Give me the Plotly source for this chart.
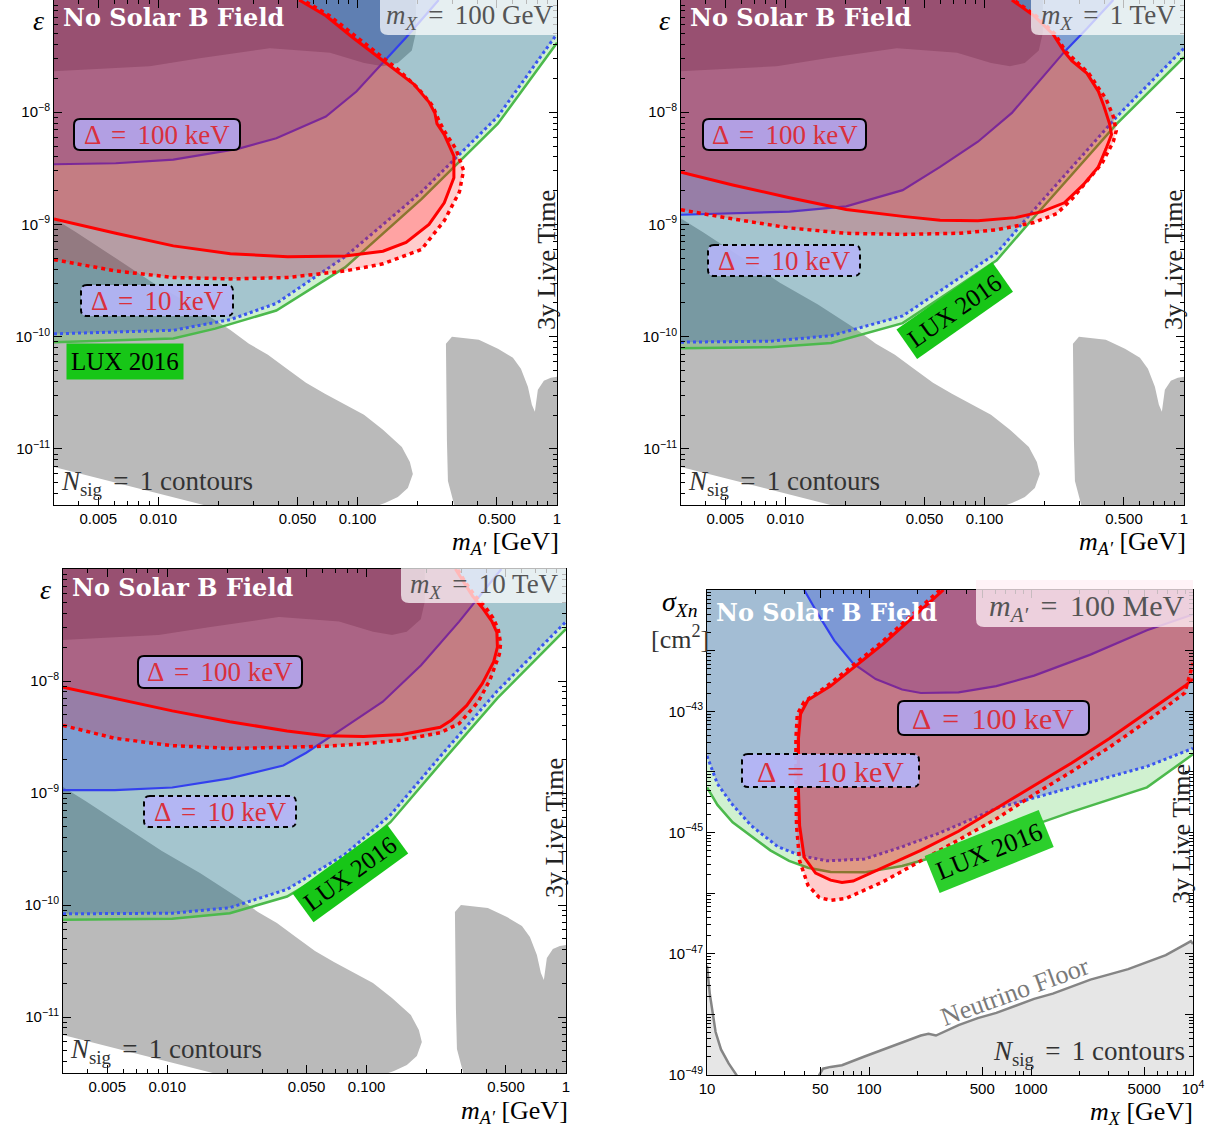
import plotly.graph_objects as go
import math

W, H = 1210, 1130

# ---------------- shared existing-constraint regions (epsilon vs m_A') ----------------
band_x = [0.003, 0.0051, 0.00908, 0.0162, 0.0363, 0.0514, 0.0726, 0.1076, 0.134, 0.159, 0.187, 0.196, 0.196]
band_y = [2.32e-8, 2.45e-8, 2.57e-8, 3.02e-8, 3.72e-8, 3.55e-8, 3.39e-8, 2.75e-8, 2.57e-8, 2.75e-8, 3.55e-8, 5.13e-8, 1.0e-7]

wedge_x = [0.003, 0.00389, 0.00605, 0.0094, 0.01459, 0.02291, 0.02851, 0.03548, 0.04416, 0.05508, 0.06855,
           0.0863, 0.1076, 0.134, 0.1667, 0.1828, 0.1892, 0.1786, 0.1592, 0.1371, 0.118, 0.019, 0.01172, 0.00607, 0.003]
wedge_y = [1.13e-9, 8.49e-10, 5.07e-10, 3.03e-10, 1.93e-10, 1.15e-10, 8.65e-11, 6.9e-11, 5.18e-11, 3.88e-11, 3.1e-11,
           2.47e-11, 2.01e-11, 1.48e-11, 1.04e-11, 7.66e-12, 5.98e-12, 4.49e-12, 3.73e-12, 3.29e-12, 3.0e-12, 3.0e-12,
           3.73e-12, 4.97e-12, 6.9e-12]

block_x = [0.2805, 0.2773, 0.2972, 0.4055, 0.5058, 0.6012, 0.6592, 0.7145, 0.7482, 0.7745, 0.8017, 0.859, 0.9311,
           1.0, 1.0, 0.3076, 0.2838]
block_y = [1.18e-11, 8.65e-11, 1.0e-10, 9.4e-11, 7.81e-11, 6.49e-11, 5.18e-11, 3.58e-11, 2.47e-11, 2.14e-11, 3.37e-11,
           4.05e-11, 4.31e-11, 4.4e-11, 3.0e-12, 3.0e-12, 5.18e-12]

# ---------------- panel 1 : m_X = 100 GeV ----------------
p1_lux_x = [0.003, 0.0119, 0.0193, 0.0391, 0.0865, 0.209, 0.505, 1.0]
p1_lux_y = [8.93e-11, 9.62e-11, 1.18e-10, 1.71e-10, 4.14e-10, 1.68e-9, 7.91e-9, 4.15e-8]
p1_bdot_x = [0.003, 0.0119, 0.0230, 0.0391, 0.0865, 0.209, 0.505, 1.0]
p1_bdot_y = [1.06e-10, 1.14e-10, 1.42e-10, 1.98e-10, 5.16e-10, 1.95e-9, 9.16e-9, 4.99e-8]
p1_bsol_x = [0.003, 0.00612, 0.0119, 0.0251, 0.0391, 0.0693, 0.0986, 0.134, 0.175, 0.255]
p1_bsol_y = [3.44e-9, 3.51e-9, 3.78e-9, 4.71e-9, 5.87e-9, 9.16e-9, 1.53e-8, 2.77e-8, 4.63e-8, 1.0e-7]
p1_rsol_x = [0.003, 0.00612, 0.0119, 0.0230, 0.0446, 0.0865, 0.134, 0.175, 0.228, 0.272, 0.304, 0.304, 0.272,
             0.250, 0.244, 0.228, 0.191, 0.154, 0.123, 0.0944, 0.0693, 0.0509]
p1_rsol_y = [1.12e-9, 8.34e-10, 6.44e-10, 5.47e-10, 5.16e-10, 5.24e-10, 5.77e-10, 6.93e-10, 1.0e-9, 1.56e-9,
             2.61e-9, 4.06e-9, 6.32e-9, 7.91e-9, 9.86e-9, 1.23e-8, 1.78e-8, 2.39e-8, 3.21e-8, 4.63e-8, 7.23e-8, 1.0e-7]
p1_rdot_x = [0.003, 0.00612, 0.0119, 0.0230, 0.0446, 0.0865, 0.134, 0.209, 0.272, 0.324, 0.340, 0.311, 0.272,
             0.255, 0.238, 0.200, 0.160, 0.129, 0.0986, 0.0724, 0.0532]
p1_rdot_y = [4.86e-10, 3.85e-10, 3.37e-10, 3.27e-10, 3.37e-10, 3.85e-10, 4.46e-10, 5.98e-10, 1.08e-9, 1.95e-9,
             3.03e-9, 4.71e-9, 6.81e-9, 8.51e-9, 1.14e-8, 1.65e-8, 2.39e-8, 3.21e-8, 4.63e-8, 7.23e-8, 1.0e-7]

# ---------------- panel 2 : m_X = 1 TeV ----------------
p2_lux_x = [0.003, 0.00847, 0.0170, 0.0388, 0.0745, 0.115, 0.177, 0.274, 0.461, 1.0]
p2_lux_y = [7.87e-11, 8.05e-11, 8.79e-11, 1.32e-10, 2.86e-10, 4.80e-10, 1.16e-9, 2.81e-9, 7.91e-9, 3.09e-8]
p2_bdot_x = [0.003, 0.00847, 0.0170, 0.0388, 0.0745, 0.115, 0.177, 0.274, 0.461, 1.0]
p2_bdot_y = [8.93e-11, 9.12e-11, 1.02e-10, 1.53e-10, 3.32e-10, 5.56e-10, 1.35e-9, 3.26e-9, 9.16e-9, 3.72e-8]
p2_bsol_x = [0.003, 0.00545, 0.0105, 0.0202, 0.0388, 0.0598, 0.0925, 0.137, 0.202, 0.251, 0.326, 0.442]
p2_bsol_y = [1.22e-9, 1.25e-9, 1.30e-9, 1.45e-9, 2.02e-9, 3.26e-9, 5.46e-9, 9.86e-9, 2.22e-8, 3.45e-8, 5.57e-8, 1.0e-7]
p2_rsol_x = [0.003, 0.00545, 0.0105, 0.0202, 0.0388, 0.0598, 0.0925, 0.143, 0.194, 0.251, 0.312, 0.372, 0.406,
             0.433, 0.423, 0.396, 0.372, 0.326, 0.274, 0.251, 0.220, 0.177, 0.137]
p2_rsol_y = [2.92e-9, 2.25e-9, 1.73e-9, 1.36e-9, 1.18e-9, 1.09e-9, 1.08e-9, 1.15e-9, 1.30e-9, 1.56e-9, 2.25e-9,
             3.26e-9, 4.71e-9, 6.32e-9, 7.91e-9, 1.14e-8, 1.53e-8, 2.22e-8, 2.87e-8, 3.45e-8, 4.99e-8, 7.23e-8, 1.0e-7]
p2_rdot_x = [0.003, 0.00545, 0.0105, 0.0202, 0.0388, 0.0745, 0.115, 0.177, 0.230, 0.274, 0.326, 0.388, 0.442,
             0.457, 0.442, 0.406, 0.372, 0.333, 0.280, 0.256, 0.225, 0.181, 0.140]
p2_rdot_y = [1.35e-9, 1.12e-9, 9.31e-10, 8.34e-10, 8.15e-10, 8.34e-10, 8.97e-10, 1.04e-9, 1.25e-9, 1.68e-9, 2.43e-9,
             3.51e-9, 5.46e-9, 6.81e-9, 9.16e-9, 1.32e-8, 1.65e-8, 2.22e-8, 2.98e-8, 3.45e-8, 4.99e-8, 7.23e-8, 1.0e-7]

# ---------------- panel 3 : m_X = 10 TeV ----------------
p3_lux_x = [0.003, 0.0106, 0.0206, 0.0399, 0.0774, 0.132, 0.234, 0.453, 1.0]
p3_lux_y = [7.40e-11, 7.55e-11, 8.45e-11, 1.19e-10, 2.42e-10, 5.51e-10, 1.82e-9, 7.03e-9, 2.92e-8]
p3_bdot_x = [0.003, 0.0106, 0.0206, 0.0399, 0.0774, 0.132, 0.234, 0.453, 1.0]
p3_bdot_y = [8.34e-11, 8.45e-11, 9.46e-11, 1.38e-10, 2.81e-10, 6.40e-10, 2.12e-9, 8.17e-9, 3.39e-8]
p3_bsol_x = [0.003, 0.00546, 0.0106, 0.0206, 0.0382, 0.0498, 0.0774, 0.1205, 0.1875, 0.291, 0.474]
p3_bsol_y = [1.06e-9, 1.06e-9, 1.12e-9, 1.35e-9, 1.76e-9, 2.29e-9, 3.86e-9, 6.53e-9, 1.38e-8, 3.39e-8, 1.0e-7]
p3_rsol_x = [0.003, 0.00546, 0.0106, 0.0206, 0.0399, 0.0621, 0.0966, 0.150, 0.234, 0.267, 0.318, 0.380, 0.434,
             0.453, 0.450, 0.425, 0.384, 0.340, 0.305, 0.279]
p3_rsol_y = [8.81e-9, 7.03e-9, 5.41e-9, 4.33e-9, 3.58e-9, 3.25e-9, 3.20e-9, 3.33e-9, 3.86e-9, 4.49e-9, 6.05e-9,
             9.48e-9, 1.49e-8, 2.01e-8, 2.71e-8, 3.40e-8, 4.41e-8, 5.73e-8, 7.73e-8, 1.0e-7]
p3_rdot_x = [0.003, 0.00546, 0.0106, 0.0206, 0.0399, 0.0621, 0.0966, 0.150, 0.234, 0.291, 0.363, 0.415, 0.463,
             0.470, 0.457, 0.430, 0.394, 0.348, 0.311, 0.285]
p3_rdot_y = [4.01e-9, 3.08e-9, 2.65e-9, 2.50e-9, 2.56e-9, 2.62e-9, 2.75e-9, 2.97e-9, 3.45e-9, 4.16e-9, 6.53e-9,
             1.02e-8, 1.73e-8, 2.16e-8, 2.92e-8, 3.66e-8, 4.57e-8, 5.81e-8, 7.73e-8, 1.0e-7]

# ---------------- panel 4 : m_A' = 100 MeV (sigma vs m_X) ----------------
p4_lux_x = [10, 11.6, 14.4, 18.8, 24.6, 32.1, 42.0, 57.9, 93.8, 160, 274, 611, 1782, 5200, 10000]
p4_lux_y = [5.55e-45, 2.85e-45, 1.47e-45, 8.65e-46, 5.08e-46, 3.41e-46, 2.62e-46, 2.23e-46, 2.20e-46, 2.80e-46,
            4.17e-46, 8.09e-46, 2.19e-45, 5.55e-45, 1.95e-44]
p4_bdot_x = [10, 11.6, 14.4, 18.8, 27.4, 37.8, 55.0, 93.8, 160, 274, 611, 1782, 5200, 10000]
p4_bdot_y = [1.83e-44, 6.32e-45, 2.85e-45, 1.29e-45, 5.81e-46, 4.17e-46, 3.41e-46, 3.65e-46, 5.81e-46, 9.86e-46,
             2.50e-45, 5.55e-45, 1.23e-44, 2.45e-44]
p4_bsol_x = [39.8, 49.3, 61.1, 79.8, 110, 160, 209, 357, 611, 1045, 2328, 5200, 10000]
p4_bsol_y = [1.0e-41, 3.70e-42, 1.46e-42, 6.17e-43, 3.39e-43, 2.28e-43, 2.0e-43, 2.05e-43, 2.60e-43, 3.87e-43,
             8.59e-43, 2.17e-42, 3.95e-42]
p4_rsol_x = [288, 122, 57.9, 42.0, 37.8, 36.7, 36.7, 37.3, 39.8, 46.8, 57.9, 68.1, 79.8, 122, 209, 357, 611, 1045,
             1782, 3048, 5200, 8892, 10000]
p4_rsol_y = [1.0e-41, 1.28e-42, 2.60e-43, 1.53e-43, 9.0e-44, 3.55e-44, 4.85e-45, 1.29e-45, 3.90e-46, 2.14e-46,
             1.64e-46, 1.50e-46, 1.58e-46, 2.62e-46, 5.08e-46, 1.05e-45, 2.50e-45, 5.92e-45, 1.40e-44, 3.55e-44,
             9.61e-44, 2.60e-43, 3.39e-43]
p4_rdot_x = [274, 116, 55.0, 39.8, 36.1, 35.4, 35.4, 35.7, 37.3, 42.0, 49.3, 57.9, 71.8, 122, 209, 357, 611, 1045,
             1782, 3048, 5200, 8892, 10000]
p4_rdot_y = [1.0e-41, 1.28e-42, 2.60e-43, 1.43e-43, 9.0e-44, 3.55e-44, 4.85e-45, 1.29e-45, 3.41e-46, 1.35e-46,
             8.47e-47, 7.62e-47, 8.15e-47, 1.54e-46, 3.41e-46, 7.57e-46, 1.68e-45, 4.25e-45, 1.01e-44, 2.55e-44,
             6.90e-44, 2.0e-43, 6.17e-43]
nu_x = [10, 10.4, 11.3, 12.2, 13.6, 15.2, 17, 45, 49.3, 52.0, 57.9, 68.1, 93.8, 122, 152, 209, 233, 259, 357, 469,
        611, 800, 1045, 1364, 1782, 2328, 3048, 3981, 5200, 6792, 8892, 9700, 10000]
nu_y = [6.37e-48, 2.20e-48, 5.12e-49, 2.64e-49, 1.55e-49, 1.0e-49, 3.0e-50, 3.0e-50, 1.0e-49, 1.27e-49, 1.36e-49,
        1.45e-49, 2.02e-49, 2.64e-49, 3.21e-49, 4.48e-49, 4.79e-49, 4.48e-49, 6.67e-49, 8.69e-49, 1.06e-48, 1.38e-48,
        1.80e-48, 2.20e-48, 2.87e-48, 3.74e-48, 4.57e-48, 5.57e-48, 7.28e-48, 9.48e-48, 1.41e-47, 1.61e-47, 1.45e-47]

# ---------------- ticks ----------------
eps_tickvals = [1e-11, 1e-10, 1e-9, 1e-8]
eps_ticktext = ["10<sup>\u221211</sup>", "10<sup>\u221210</sup>", "10<sup>\u22129</sup>", "10<sup>\u22128</sup>"]
ma_tickvals = [0.005, 0.01, 0.05, 0.1, 0.5, 1]
ma_ticktext = ["0.005", "0.010", "0.050", "0.100", "0.500", "1"]
mx_tickvals = [10, 50, 100, 500, 1000, 5000, 10000]
mx_ticktext = ["10", "50", "100", "500", "1000", "5000", "10<sup>4</sup>"]
sig_tickvals = [1e-49, 1e-48, 1e-47, 1e-46, 1e-45, 1e-44, 1e-43, 1e-42, 1e-41]
sig_ticktext = ["10<sup>\u221249</sup>", "", "10<sup>\u221247</sup>", "", "10<sup>\u221245</sup>", "",
                "10<sup>\u221243</sup>", "", ""]

# ---------------- styling ----------------
SERIF = "Liberation Serif"
GRAY = "#bababa"
GREEN_FILL = "rgba(40,190,40,0.22)"
BLUE_FILL = "rgba(40,70,215,0.30)"
RED_FILL = "rgba(255,0,0,0.20)"
TEAL = ["rgba(8,97,121,0.37)", "rgba(8,97,121,0.37)", "rgba(8,97,121,0.37)", "rgba(6,76,139,0.37)"]

BOX = {1: (54, 557, 0, 505), 2: (681, 1184, 0, 505), 3: (63, 566, 569, 1073), 4: (707, 1193, 590, 1075)}

EPS_XR = (0.003, 1.0)
EPS_YR = (10 ** -11.5, 1e-7)
SIG_XR = (10.0, 1e4)
SIG_YR = (1e-49, 1e-41)

fig = go.Figure()


def fill(ax, xs, ys, color):
    fig.add_trace(go.Scatter(x=xs, y=ys, xaxis=ax[0], yaxis=ax[1], mode="lines", fill="toself",
                             fillcolor=color, line=dict(width=0, color="rgba(0,0,0,0)"),
                             hoverinfo="skip", showlegend=False))


def line(ax, xs, ys, color, width, dash="solid"):
    fig.add_trace(go.Scatter(x=xs, y=ys, xaxis=ax[0], yaxis=ax[1], mode="lines",
                             line=dict(width=width, color=color, dash=dash),
                             hoverinfo="skip", showlegend=False))


def add_eps_panel(k, lux_x, lux_y, bdot_x, bdot_y, bsol_x, bsol_y, rsol_x, rsol_y, rdot_x, rdot_y):
    ax = ("x" if k == 1 else f"x{k}", "y" if k == 1 else f"y{k}")
    x0, x1 = EPS_XR
    ytop = EPS_YR[1]
    fill(ax, band_x + [x0], band_y + [ytop], GRAY)
    fill(ax, wedge_x, wedge_y, GRAY)
    fill(ax, block_x, block_y, GRAY)
    fill(ax, lux_x + bdot_x[::-1], lux_y + bdot_y[::-1], GREEN_FILL)
    fill(ax, bdot_x + [x1, x0], bdot_y + [ytop, ytop], TEAL[k - 1])
    fill(ax, bsol_x + [x0], bsol_y + [ytop], BLUE_FILL)
    line(ax, lux_x, lux_y, "#4cb94c", 2.5)
    line(ax, bdot_x, bdot_y, "#3a55f0", 3, "3px,3px")
    line(ax, bsol_x, bsol_y, "#3340ee", 2.2)
    fill(ax, rdot_x + [x0], rdot_y + [ytop], RED_FILL)
    fill(ax, rsol_x + [x0], rsol_y + [ytop], RED_FILL)
    line(ax, rdot_x, rdot_y, "#ff0000", 3.5, "4px,4px")
    line(ax, rsol_x, rsol_y, "#ff0000", 3)


add_eps_panel(1, p1_lux_x, p1_lux_y, p1_bdot_x, p1_bdot_y, p1_bsol_x, p1_bsol_y, p1_rsol_x, p1_rsol_y, p1_rdot_x, p1_rdot_y)
add_eps_panel(2, p2_lux_x, p2_lux_y, p2_bdot_x, p2_bdot_y, p2_bsol_x, p2_bsol_y, p2_rsol_x, p2_rsol_y, p2_rdot_x, p2_rdot_y)
add_eps_panel(3, p3_lux_x, p3_lux_y, p3_bdot_x, p3_bdot_y, p3_bsol_x, p3_bsol_y, p3_rsol_x, p3_rsol_y, p3_rdot_x, p3_rdot_y)

ax4 = ("x4", "y4")
sx0, sx1 = SIG_XR
stop = SIG_YR[1]
sbot = 1e-50
fill(ax4, nu_x + [sx1, sx0], nu_y + [sbot, sbot], "#e6e6e6")
line(ax4, nu_x, nu_y, "#858585", 2.5)
fill(ax4, p4_lux_x + p4_bdot_x[::-1], p4_lux_y + p4_bdot_y[::-1], GREEN_FILL)
fill(ax4, p4_bdot_x + [sx1, sx0], p4_bdot_y + [stop, stop], TEAL[3])
fill(ax4, p4_bsol_x + [sx1], p4_bsol_y + [stop], BLUE_FILL)
line(ax4, p4_lux_x, p4_lux_y, "#4cb94c", 2.5)
line(ax4, p4_bdot_x, p4_bdot_y, "#3a55f0", 3, "3px,3px")
line(ax4, p4_bsol_x, p4_bsol_y, "#3340ee", 2.2)
fill(ax4, p4_rdot_x + [sx1], p4_rdot_y + [stop], RED_FILL)
fill(ax4, p4_rsol_x + [sx1], p4_rsol_y + [stop], RED_FILL)
line(ax4, p4_rdot_x, p4_rdot_y, "#ff0000", 3.5, "4px,4px")
line(ax4, p4_rsol_x, p4_rsol_y, "#ff0000", 3)


# ---------------- axes ----------------
def minor_vals(lo_exp, hi_exp, skip):
    vals = []
    for e in range(lo_exp, hi_exp + 1):
        for m in range(1, 10):
            v = m * 10.0 ** e
            if all(abs(v / s - 1) > 1e-6 for s in skip):
                vals.append(v)
    return vals


def axis(k, xr, yr, xtv, xtt, ytv, ytt):
    x_key = "xaxis" if k == 1 else f"xaxis{k}"
    y_key = "yaxis" if k == 1 else f"yaxis{k}"
    l, r, t, b = BOX[k]
    common = dict(type="log", showline=True, linecolor="black", linewidth=1, mirror="ticks",
                  ticks="inside", ticklen=8, tickwidth=1, tickcolor="black", showgrid=False,
                  zeroline=False, tickfont=dict(family="Liberation Sans", size=15, color="black"),
                  tickmode="array", automargin=False)
    xminor = minor_vals(int(math.floor(math.log10(xr[0]))), int(math.floor(math.log10(xr[1]))), xtv)
    yminor = minor_vals(int(math.floor(math.log10(yr[0]))), int(math.floor(math.log10(yr[1]))), ytv)
    fig.update_layout({
        x_key: dict(common, domain=[l / W, r / W], range=[math.log10(xr[0]), math.log10(xr[1])],
                    anchor="y" if k == 1 else f"y{k}", tickvals=xtv, ticktext=xtt,
                    minor=dict(tickmode="array", tickvals=xminor, ticks="inside", ticklen=4,
                               tickcolor="black", showgrid=False)),
        y_key: dict(common, domain=[1 - b / H, 1 - t / H], range=[math.log10(yr[0]), math.log10(yr[1])],
                    anchor="x" if k == 1 else f"x{k}", tickvals=ytv, ticktext=ytt,
                    minor=dict(tickmode="array", tickvals=yminor, ticks="inside", ticklen=4,
                               tickcolor="black", showgrid=False)),
    })


for k in (1, 2, 3):
    axis(k, EPS_XR, EPS_YR, ma_tickvals, ma_ticktext, eps_tickvals, eps_ticktext)
axis(4, SIG_XR, SIG_YR, mx_tickvals, mx_ticktext, sig_tickvals, sig_ticktext)

# ---------------- labels ----------------
ann = []
shapes = []


def px(x):
    return x / W


def py(y):
    return 1 - y / H


def text(x, y, s, size=26, color="black", xanchor="center", yanchor="middle", family=SERIF, angle=0, **kw):
    ann.append(dict(x=px(x), y=py(y), xref="paper", yref="paper", text=s, showarrow=False,
                    xanchor=xanchor, yanchor=yanchor, textangle=angle,
                    font=dict(family=family, size=size, color=color), **kw))


def rpath(x0, y0, x1, y1, r=(6, 6, 6, 6)):
    def f(x, y):
        return f"{x / W:.5f},{1 - y / H:.5f}"
    tl, tr, br, bl = r
    return (f"M {f(x0 + tl, y0)} L {f(x1 - tr, y0)} Q {f(x1, y0)} {f(x1, y0 + tr)} "
            f"L {f(x1, y1 - br)} Q {f(x1, y1)} {f(x1 - br, y1)} L {f(x0 + bl, y1)} "
            f"Q {f(x0, y1)} {f(x0, y1 - bl)} L {f(x0, y0 + tl)} Q {f(x0, y0)} {f(x0 + tl, y0)} Z")


def box(x0, y0, x1, y1, fillc, linec="black", lw=2, dash="solid", r=(6, 6, 6, 6)):
    shapes.append(dict(type="path", path=rpath(x0, y0, x1, y1, r), xref="paper", yref="paper",
                       fillcolor=fillc, line=dict(color=linec, width=lw, dash=dash), layer="above"))


EQ = " \u2006=\u2006 "
D100 = "\u0394" + EQ + "100 keV"
D10 = "\u0394" + EQ + "10 keV"
RED_TXT = "#d9303c"
BOX100 = "rgba(178,162,232,0.95)"
BOX10 = "rgba(180,180,246,0.92)"
NOSOLAR = "<b>No Solar B Field</b>"
NSIG = "<i>N</i><sub>sig</sub>" + EQ + "1 contours"
LIVE = "3y Live Time"
MAP = "<i>m</i><sub><i>A\u2032</i></sub> [GeV]"
MX = "<i>m</i><sub><i>X</i></sub>"
NS_FONT = "DejaVu Serif"
NS_SIZE = 24

# Panel 1
box(74, 119, 240, 150, BOX100)
text(157, 135, D100, size=27, color=RED_TXT)
box(81, 285, 233, 316, BOX10, dash="5px,4px")
text(157, 301, D10, size=27, color=RED_TXT)
text(125, 361, "LUX 2016", size=25, bgcolor="#17c617", borderpad=4)
box(380, -10, 557, 35, "rgba(255,255,255,0.72)", linec="rgba(0,0,0,0)", lw=0, r=(0, 0, 0, 8))
text(469, 17, MX + EQ + "100 GeV", size=27, color="#555555")
text(61, 18, NOSOLAR, size=NS_SIZE, color="white", xanchor="left", family=NS_FONT)
text(546, 260, LIVE, angle=-90, color="#222222")
text(59, 483, NSIG, size=27, xanchor="left", color="#333333")
text(38, 20, "<i>\u03b5</i>", size=28)
text(505, 543, MAP)

# Panel 2
box(703, 119, 866, 150, BOX100)
text(785, 135, D100, size=27, color=RED_TXT)
box(708, 245, 860, 276, BOX10, dash="5px,4px")
text(784, 261, D10, size=27, color=RED_TXT)
text(955, 311, "LUX 2016", size=25, bgcolor="#17c617", borderpad=4, angle=-35)
box(1031, -10, 1184, 35, "rgba(255,255,255,0.72)", linec="rgba(0,0,0,0)", lw=0, r=(0, 0, 0, 8))
text(1108, 17, MX + EQ + "1 TeV", size=27, color="#555555")
text(688, 18, NOSOLAR, size=NS_SIZE, color="white", xanchor="left", family=NS_FONT)
text(1173, 260, LIVE, angle=-90, color="#222222")
text(686, 483, NSIG, size=27, xanchor="left", color="#333333")
text(664, 20, "<i>\u03b5</i>", size=28)
text(1132, 543, MAP)

# Panel 3
box(138, 656, 302, 688, BOX100)
text(220, 672, D100, size=27, color=RED_TXT)
box(144, 796, 296, 827, BOX10, dash="5px,4px")
text(220, 812, D10, size=27, color=RED_TXT)
text(350, 873, "LUX 2016", size=25, bgcolor="#17c617", borderpad=4, angle=-36)
box(401, 559, 566, 603, "rgba(255,255,255,0.72)", linec="rgba(0,0,0,0)", lw=0, r=(0, 0, 0, 8))
text(484, 586, MX + EQ + "10 TeV", size=27, color="#555555")
text(70, 587, NOSOLAR, size=NS_SIZE, color="white", xanchor="left", family=NS_FONT)
text(554, 828, LIVE, angle=-90, color="#222222")
text(68, 1051, NSIG, size=27, xanchor="left", color="#333333")
text(46, 589, "<i>\u03b5</i>", size=28)
text(514, 1112, MAP)

# Panel 4
box(898, 701, 1089, 735, BOX100)
text(993, 718, D100, size=30, color=RED_TXT)
box(742, 754, 919, 787, BOX10, dash="5px,4px")
text(830, 771, D10, size=30, color=RED_TXT)
text(989, 851, "LUX 2016", size=26, bgcolor="#2ccf2c", borderpad=5, angle=-22)
box(976, 580, 1193, 627, "rgba(255,240,245,0.78)", linec="rgba(0,0,0,0)", lw=0, r=(0, 0, 0, 8))
text(1086, 608, "<i>m</i><sub><i>A\u2032</i></sub>" + EQ + "100 MeV", size=30, color="#555555")
text(714, 612, NOSOLAR, size=NS_SIZE, color="white", xanchor="left", family=NS_FONT)
text(1182, 834, LIVE, angle=-90, color="#222222")
text(1187, 1053, NSIG, size=27, xanchor="right", color="#333333")
text(1015, 991, "Neutrino Floor", size=26, color="#7a7a7a", angle=-20)
text(680, 603, "<i>\u03c3</i><sub><i>Xn</i></sub>", size=28)
text(680, 637, "[cm<sup>2</sup>]", size=26, color="#333333")
text(1141, 1113, MX + " [GeV]")

fig.update_layout(width=W, height=H, margin=dict(l=0, r=0, t=0, b=0, autoexpand=False), paper_bgcolor="white",
                  plot_bgcolor="white", annotations=ann, shapes=shapes, showlegend=False)

fig.write_html("out.html", config={"displayModeBar": False},
               post_script="document.body.style.margin='0px';document.body.style.overflow='hidden';")
